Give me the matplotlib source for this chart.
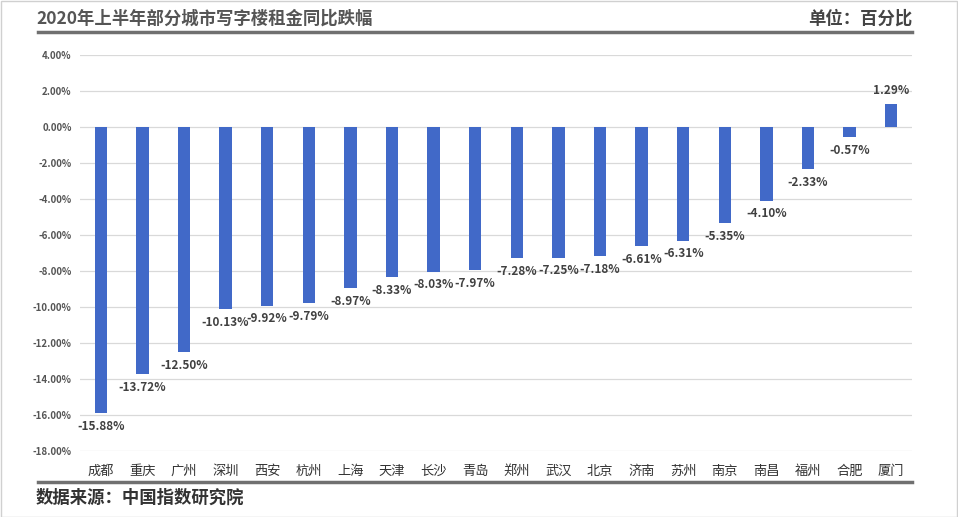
import matplotlib.pyplot as plt
from matplotlib.lines import Line2D
from matplotlib.patches import Rectangle

plt.rcParams['font.family'] = ['Noto Sans CJK SC', 'DejaVu Sans']

cities = ["成都", "重庆", "广州", "深圳", "西安", "杭州", "上海", "天津", "长沙", "青岛",
          "郑州", "武汉", "北京", "济南", "苏州", "南京", "南昌", "福州", "合肥", "厦门"]
changes = [-15.88, -13.72, -12.50, -10.13, -9.92, -9.79, -8.97, -8.33, -8.03, -7.97,
           -7.28, -7.25, -7.18, -6.61, -6.31, -5.35, -4.10, -2.33, -0.57, 1.29]
y_ticks = [4, 2, 0, -2, -4, -6, -8, -10, -12, -14, -16, -18]

title = "2020年上半年部分城市写字楼租金同比跌幅"
unit = "单位：百分比"
source = "数据来源：中国指数研究院"

W, H = 958, 517
fig = plt.figure(figsize=(W / 100, H / 100), dpi=100)

# axes box in pixel coordinates
left, right, top, bottom = 80, 912, 55, 451
ax = fig.add_axes([left / W, 1 - bottom / H, (right - left) / W, (bottom - top) / H])

x = list(range(len(cities)))
ax.bar(x, changes, width=0.3, color="#4169C8", zorder=3)
ax.set_xlim(-0.5, len(cities) - 0.5)
ax.set_ylim(-18, 4)
ax.set_yticks(y_ticks)
ax.set_yticklabels([f"{v:.2f}%" for v in y_ticks], fontsize=7, color="#555555",
                   fontweight="bold")
ax.set_xticks(x)
ax.set_xticklabels(cities, fontsize=9.5, color="#333333")
ax.tick_params(length=0, pad=6)
ax.tick_params(axis="x", pad=10)
ax.grid(True, axis="y", color="#d9d9d9", linewidth=0.9, zorder=0)
for s in ax.spines.values():
    s.set_visible(False)

for xi, v in zip(x, changes):
    off = -9.5 if v < 0 else 9.5
    ax.annotate(f"{v:.2f}%", (xi, v), xytext=(0, off), textcoords="offset points",
                ha="center", va="center", fontsize=8.5, fontweight="bold",
                color="#404040", zorder=4)

# header / footer
fig.text(36 / W, 1 - 19 / H, title, fontsize=12.5, fontweight="bold", color="#555555",
         ha="left", va="center")
fig.text(912 / W, 1 - 19 / H, unit, fontsize=12.5, fontweight="bold", color="#444444",
         ha="right", va="center")
fig.text(36 / W, 1 - 498 / H, source, fontsize=12.5, fontweight="bold", color="#333333",
         ha="left", va="center")
for yy in (32, 482):
    fig.add_artist(Line2D([38 / W, 912 / W], [1 - yy / H, 1 - yy / H],
                          color="#707070", linewidth=2.5, transform=fig.transFigure))

fig.add_artist(Rectangle((0.5 / W, 0.5 / H), 1 - 1.5 / W, 1 - 1.5 / H, fill=False,
                         edgecolor="#d0d0d0", linewidth=1, transform=fig.transFigure))

fig.savefig("out.png", dpi=100)
